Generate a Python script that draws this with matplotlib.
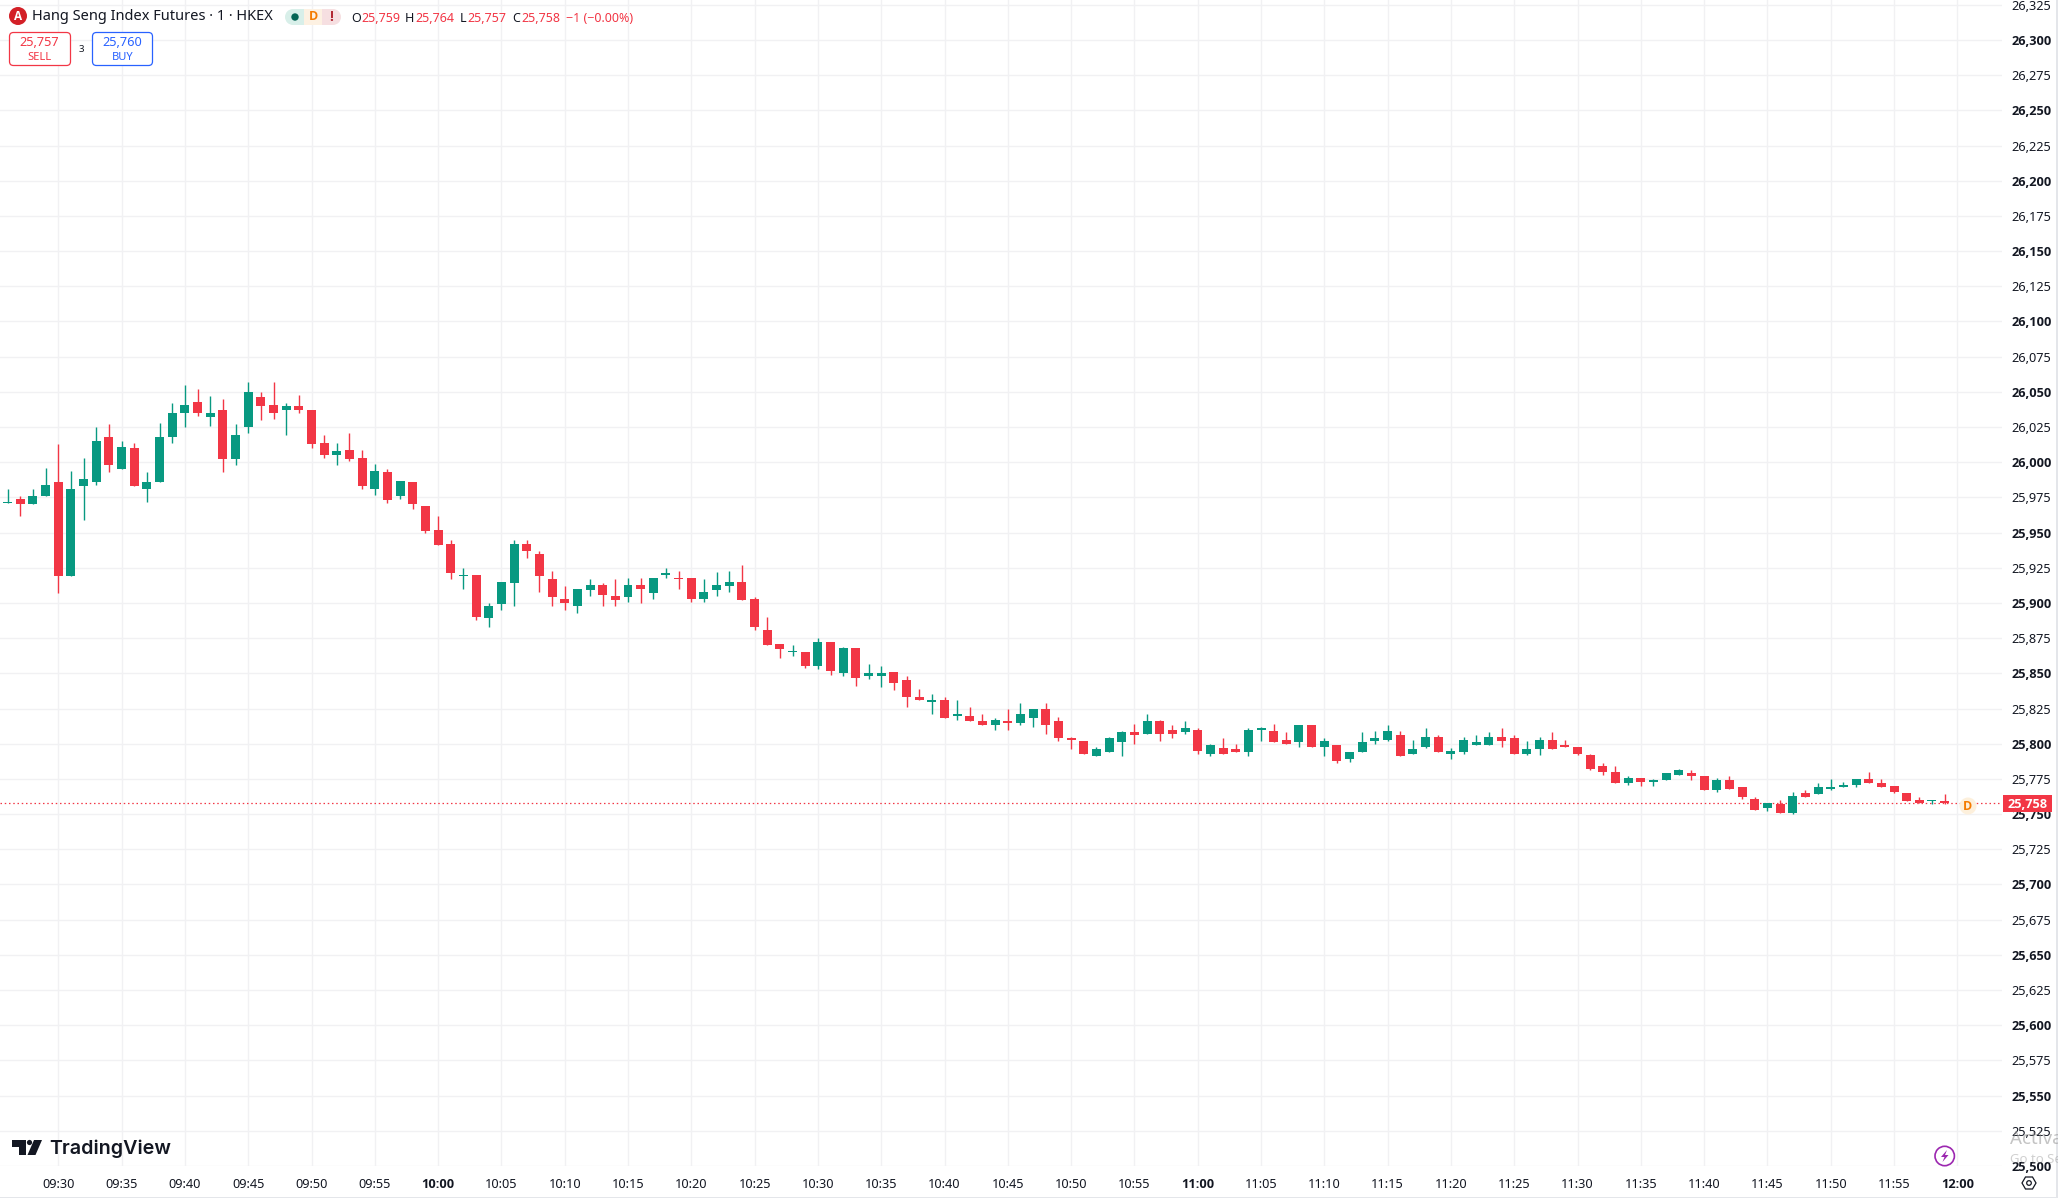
import matplotlib
matplotlib.use('Agg')
import matplotlib.pyplot as plt
from matplotlib.patches import Circle, FancyBboxPatch, Polygon, Rectangle

WIDTH, HEIGHT = 2058, 1198
RED = '#f23645'
GREEN = '#089981'
BLUE = '#2962ff'
GRID = '#f1f1f3'
TEXT = '#131722'

# 1 minute candles, the first one is 09:26
opens = [
    25971, 25974, 25970, 25976, 25986, 25919, 25983, 25986, 26018, 25995,
    26010, 25981, 25986, 26018, 26035, 26043, 26032, 26037, 26002, 26025,
    26046, 26041, 26037, 26040, 26037, 26014, 26005, 26009, 26003, 25981,
    25993, 25976, 25986, 25969, 25952, 25942, 25919, 25920, 25889, 25899,
    25914, 25942, 25935, 25917, 25903, 25898, 25909, 25913, 25905, 25904,
    25913, 25907, 25920, 25918, 25918, 25903, 25909, 25912, 25915, 25903,
    25881, 25871, 25865, 25865, 25855, 25872, 25850, 25868, 25848, 25848,
    25851, 25845, 25833, 25830, 25831, 25820, 25820, 25816, 25813, 25816,
    25815, 25818, 25825, 25816, 25804, 25802, 25791, 25794, 25801, 25808,
    25807, 25816, 25810, 25808, 25810, 25793, 25797, 25796, 25794, 25810,
    25809, 25803, 25801, 25813, 25798, 25799, 25789, 25794, 25802, 25803,
    25806, 25793, 25798, 25805, 25793, 25794, 25799, 25799, 25805, 25804,
    25793, 25796, 25803, 25799, 25798, 25792, 25784, 25780, 25772, 25776,
    25773, 25774, 25778, 25779, 25777, 25767, 25774, 25769, 25761, 25754,
    25757, 25751, 25765, 25764, 25768, 25769, 25771, 25775, 25772, 25770,
    25765, 25760, 25759, 25759]
highs = [
    25981, 25976, 25981, 25996, 26013, 25994, 26003, 26025, 26027, 26015,
    26014, 25993, 26028, 26042, 26055, 26052, 26047, 26045, 26027, 26057,
    26050, 26057, 26042, 26048, 26037, 26019, 26014, 26021, 26009, 25999,
    25995, 25987, 25986, 25969, 25962, 25945, 25925, 25920, 25900, 25915,
    25945, 25945, 25937, 25923, 25912, 25910, 25917, 25914, 25917, 25918,
    25918, 25918, 25925, 25923, 25918, 25917, 25922, 25923, 25927, 25904,
    25890, 25871, 25870, 25865, 25875, 25872, 25869, 25868, 25857, 25855,
    25851, 25848, 25839, 25835, 25833, 25831, 25826, 25821, 25818, 25825,
    25829, 25825, 25829, 25819, 25805, 25802, 25798, 25805, 25809, 25814,
    25821, 25817, 25813, 25816, 25811, 25800, 25804, 25800, 25811, 25812,
    25814, 25808, 25813, 25813, 25804, 25799, 25794, 25808, 25809, 25813,
    25809, 25803, 25811, 25806, 25797, 25805, 25806, 25808, 25811, 25806,
    25802, 25805, 25808, 25803, 25798, 25793, 25786, 25784, 25777, 25776,
    25775, 25779, 25782, 25781, 25777, 25776, 25777, 25769, 25762, 25758,
    25760, 25766, 25767, 25772, 25775, 25773, 25775, 25780, 25775, 25770,
    25765, 25762, 25760, 25764]
lows = [
    25971, 25962, 25970, 25976, 25907, 25919, 25959, 25984, 25993, 25995,
    25983, 25972, 25986, 26014, 26025, 26033, 26026, 25993, 25998, 26021,
    26030, 26031, 26019, 26035, 26010, 26003, 25998, 26001, 25981, 25977,
    25971, 25974, 25967, 25950, 25941, 25917, 25910, 25888, 25883, 25895,
    25898, 25932, 25908, 25898, 25895, 25893, 25905, 25898, 25898, 25901,
    25900, 25903, 25918, 25910, 25901, 25901, 25905, 25908, 25902, 25881,
    25870, 25861, 25862, 25854, 25853, 25849, 25848, 25841, 25846, 25840,
    25838, 25826, 25831, 25821, 25818, 25817, 25816, 25813, 25810, 25810,
    25813, 25812, 25807, 25802, 25796, 25793, 25791, 25794, 25791, 25800,
    25807, 25802, 25804, 25807, 25793, 25791, 25793, 25794, 25791, 25802,
    25801, 25800, 25798, 25798, 25791, 25786, 25787, 25794, 25800, 25802,
    25791, 25793, 25797, 25794, 25789, 25793, 25799, 25799, 25798, 25793,
    25792, 25792, 25796, 25798, 25792, 25781, 25778, 25772, 25771, 25770,
    25770, 25774, 25778, 25774, 25767, 25766, 25768, 25761, 25753, 25752,
    25751, 25750, 25762, 25764, 25767, 25769, 25769, 25772, 25769, 25765,
    25759, 25758, 25757, 25757]
closes = [
    25972, 25970, 25976, 25984, 25919, 25981, 25988, 26015, 25998, 26011,
    25983, 25986, 26018, 26035, 26041, 26035, 26035, 26002, 26019, 26050,
    26040, 26035, 26040, 26037, 26013, 26005, 26008, 26002, 25983, 25994,
    25973, 25987, 25970, 25951, 25941, 25921, 25920, 25890, 25898, 25915,
    25942, 25937, 25919, 25904, 25900, 25910, 25913, 25906, 25902, 25913,
    25910, 25918, 25921, 25917, 25903, 25908, 25913, 25915, 25902, 25883,
    25870, 25867, 25866, 25855, 25872, 25852, 25868, 25847, 25850, 25850,
    25843, 25833, 25831, 25831, 25818, 25821, 25816, 25813, 25817, 25815,
    25821, 25825, 25813, 25804, 25803, 25793, 25796, 25804, 25808, 25806,
    25816, 25807, 25807, 25811, 25795, 25799, 25793, 25794, 25810, 25811,
    25801, 25800, 25813, 25798, 25802, 25788, 25794, 25801, 25804, 25809,
    25791, 25796, 25805, 25794, 25795, 25803, 25801, 25805, 25802, 25793,
    25796, 25803, 25796, 25798, 25793, 25782, 25780, 25772, 25776, 25773,
    25774, 25779, 25781, 25777, 25767, 25774, 25768, 25762, 25753, 25758,
    25751, 25763, 25762, 25769, 25769, 25771, 25775, 25772, 25769, 25766,
    25759, 25758, 25760, 25758]

time_labels = [
    '09:30', '09:35', '09:40', '09:45', '09:50', '09:55', '10:00',
    '10:05', '10:10', '10:15', '10:20', '10:25', '10:30', '10:35', '10:40', '10:45', '10:50', '10:55', '11:00',
    '11:05', '11:10', '11:15', '11:20', '11:25', '11:30', '11:35', '11:40', '11:45', '11:50', '11:55', '12:00']
price_ticks = list(range(25500, 26350, 25))
last_price = 25758


def fx(px):
    return px / WIDTH


def fy(py):
    return 1 - py / HEIGHT


def label(px, py, s, color=TEXT, size=9.4, ha='left', weight='normal', family='Noto Sans', alpha=1):
    return fig.text(fx(px), fy(py), s, color=color, fontsize=size, ha=ha, va='center',
                    fontweight=weight, family=family, alpha=alpha, zorder=10)


def add_px(patch):
    # overlay shapes are given in screen pixels, top left origin
    patch.set_transform(screen)
    patch.set_zorder(8)
    fig.add_artist(patch)


fig = plt.figure(figsize=(WIDTH / 100, HEIGHT / 100), dpi=100)
screen = matplotlib.transforms.Affine2D().scale(1, -1).translate(0, HEIGHT)

ax = fig.add_axes([0, fy(1166), fx(2002), 1166 / HEIGHT])
ax.set_xlim(-0.605, 157.53)
ax.set_ylim(25500, 26328.4)
for side in ax.spines:
    ax.spines[side].set_visible(False)

ax.set_axisbelow(True)
ax.grid(True, color=GRID, linewidth=1.0)

tick_minutes = [4 + 5 * i for i in range(len(time_labels))]
ax.set_xticks(tick_minutes)
ax.set_xticklabels(time_labels, fontsize=9.2, color=TEXT, family='Noto Sans')
for t, s in zip(ax.get_xticklabels(), time_labels):
    if s.endswith(':00'):
        t.set_family('Open Sans')
        t.set_fontweight('bold')

ax.yaxis.tick_right()
ax.set_yticks(price_ticks)
ax.set_yticklabels([f'{p:,}' for p in price_ticks], fontsize=9.2, color=TEXT, family='Noto Sans')
for t, p in zip(ax.get_yticklabels(), price_ticks):
    if p % 50 == 0:
        t.set_family('Open Sans')
        t.set_fontweight('bold')
ax.tick_params(axis='both', length=0)
ax.tick_params(axis='x', pad=9)
ax.tick_params(axis='y', pad=7)

ax.axhline(last_price, color=RED, linewidth=0.9, linestyle=(0, (1.2, 2.2)), zorder=1.5)

minutes = list(range(len(opens)))
colors = [GREEN if c >= o else RED for o, c in zip(opens, closes)]
ax.vlines(minutes, lows, highs, colors=colors, linewidth=1.0, zorder=2)
ax.bar(minutes, [abs(c - o) for o, c in zip(opens, closes)],
       bottom=[min(o, c) for o, c in zip(opens, closes)],
       width=0.71, color=colors, linewidth=0, zorder=3)

# last price marker and tag on the scale
add_px(Circle((1968, 806), 8.5, facecolor='#fdf0dc', edgecolor='none'))
label(1968, 806, 'D', color='#f57c00', size=9, ha='center', weight='bold', family='Open Sans')
add_px(Rectangle((2003, 795), 49, 17, facecolor=RED, edgecolor='none'))
label(2027.5, 804, f'{last_price:,}', color='white', size=9.2, ha='center', weight='bold', family='Open Sans')

# header
add_px(Circle((18, 16), 9, facecolor='#d32027', edgecolor='none'))
label(18, 16, 'A', color='white', size=8.5, ha='center', weight='bold', family='Open Sans')
label(32, 17, 'Hang Seng Index Futures · 1 · HKEX', size=10.5)
add_px(FancyBboxPatch((292, 9), 42, 16, boxstyle='round,pad=0,rounding_size=0', facecolor='#fdf1e2', edgecolor='none'))
add_px(Circle((293, 17), 8, facecolor='#d8efe9', edgecolor='none'))
add_px(Rectangle((293, 9), 11, 16, facecolor='#d8efe9', edgecolor='none'))
add_px(Circle((333, 17), 8, facecolor='#f6dfe1', edgecolor='none'))
add_px(Rectangle((322, 9), 11, 16, facecolor='#f6dfe1', edgecolor='none'))
add_px(Circle((295, 17), 3.7, facecolor='#056656', edgecolor='none'))
label(313, 17, 'D', color='#f57c00', size=9, ha='center', weight='bold', family='Open Sans')
label(331, 17, '!', color='#b22833', size=10, ha='center', weight='bold', family='Open Sans')

ohlc_keys = ['O', 'H', 'L', 'C']
ohlc_values = ['25,759', '25,764', '25,757', '25,758']
key_px = [351, 405, 460, 512.5]
value_px = [361, 415, 467, 521.5]
for k, v, kx, vx in zip(ohlc_keys, ohlc_values, key_px, value_px):
    label(kx, 18, k, size=9)
    label(vx, 18, v, color=RED, size=9)
label(566, 18, '−1 (−0.00%)', color=RED, size=9)

add_px(FancyBboxPatch((9.5, 32.5), 61, 33, boxstyle='round,pad=0,rounding_size=4', facecolor='white', edgecolor=RED, linewidth=0.9))
add_px(FancyBboxPatch((92.5, 32.5), 60, 33, boxstyle='round,pad=0,rounding_size=4', facecolor='white', edgecolor=BLUE, linewidth=0.9))
label(39.5, 42.5, '25,757', color=RED, size=9.2, ha='center')
label(39.5, 57, 'SELL', color=RED, size=8, ha='center')
label(81, 49.5, '3', size=7, ha='center')
label(122.5, 42.5, '25,760', color=BLUE, size=9.2, ha='center')
label(122.5, 57, 'BUY', color=BLUE, size=8, ha='center')

# TradingView logo
add_px(Polygon([(12, 1140), (26, 1140), (26, 1155), (19, 1155), (19, 1147), (12, 1147)], facecolor='#131722', edgecolor='none'))
add_px(Circle((29.5, 1142.5), 2.6, facecolor='#131722', edgecolor='none'))
add_px(Polygon([(34, 1140), (42, 1140), (35.5, 1155), (27.5, 1155)], facecolor='#131722', edgecolor='none'))
label(49, 1149, 'TradingView', color='#131722', size=14.2, weight='semibold', family='Inter')

# bottom right icons
add_px(Circle((1944.7, 1156), 9.7, facecolor='white', edgecolor='#9c27b0', linewidth=1.2))
add_px(Polygon([(1947, 1150), (1941, 1157), (1944.5, 1157), (1942.5, 1162), (1948.5, 1155), (1945, 1155)], facecolor='#9c27b0', edgecolor='none'))
add_px(Polygon([(2022, 1183), (2025.5, 1177), (2032.5, 1177), (2036, 1183), (2032.5, 1189), (2025.5, 1189)], facecolor='white', edgecolor=TEXT, linewidth=0.9))
add_px(Circle((2029, 1183), 2.3, facecolor='white', edgecolor=TEXT, linewidth=0.9))

# windows watermark, runs off the right edge
label(2010, 1139, 'Activate Windows', color='#8a8a8a', size=13.5, alpha=0.5)
label(2010, 1159, 'Go to Settings to activate Windows.', color='#8a8a8a', size=9.5, alpha=0.4)

# window borders
add_px(Rectangle((2056, 0), 2, HEIGHT, facecolor='#e4e6ea', edgecolor='none'))
add_px(Rectangle((0, 1197), WIDTH, 1, facecolor='#e4e6ea', edgecolor='none'))

fig.savefig('out.png', dpi=100, facecolor='white')
